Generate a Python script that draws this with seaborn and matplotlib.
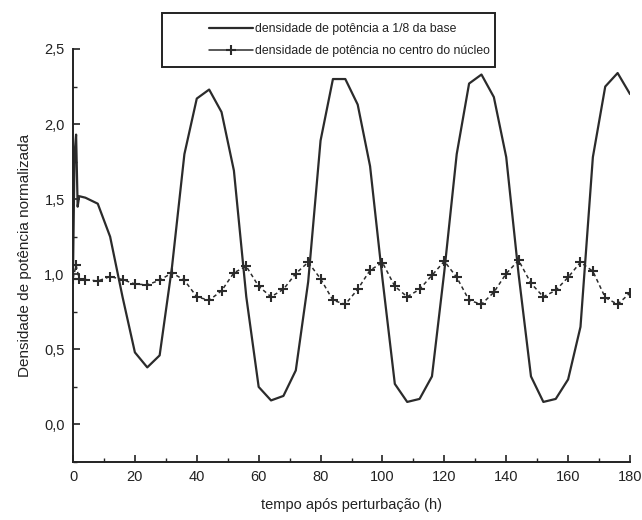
import matplotlib
matplotlib.use("Agg")
import matplotlib.pyplot as plt
import numpy as np
import pandas as pd
import seaborn as sns
from matplotlib.lines import Line2D
from matplotlib.patches import Rectangle
from matplotlib.ticker import MultipleLocator, FuncFormatter

# ---- data ----
t_base = [0, 0.5, 1, 1.5, 2, 4, 8, 12, 16, 20, 24, 28, 32, 36, 40, 44, 48, 52, 56, 60,
          64, 68, 72, 76, 80, 84, 88, 92, 96, 100, 104, 108, 112, 116, 120, 124, 128,
          132, 136, 140, 144, 148, 152, 156, 160, 164, 168, 172, 176, 180]
v_base = [1.00, 1.80, 1.93, 1.45, 1.52, 1.51, 1.47, 1.25, 0.85, 0.48, 0.38, 0.46, 1.05,
          1.80, 2.17, 2.23, 2.08, 1.69, 0.85, 0.25, 0.16, 0.19, 0.36, 0.95, 1.89, 2.30,
          2.30, 2.13, 1.72, 0.97, 0.27, 0.15, 0.17, 0.32, 1.02, 1.80, 2.27, 2.33, 2.18,
          1.78, 1.00, 0.32, 0.15, 0.17, 0.30, 0.65, 1.78, 2.25, 2.34, 2.20]

t_core = [0, 1, 2, 4, 8, 12, 16, 20, 24, 28, 32, 36, 40, 44, 48, 52, 56, 60, 64, 68, 72,
          76, 80, 84, 88, 92, 96, 100, 104, 108, 112, 116, 120, 124, 128, 132, 136, 140,
          144, 148, 152, 156, 160, 164, 168, 172, 176, 180]
v_core = [0.97, 1.06, 0.97, 0.965, 0.955, 0.985, 0.965, 0.935, 0.93, 0.96, 1.01, 0.96,
          0.85, 0.827, 0.89, 1.01, 1.053, 0.92, 0.85, 0.90, 1.005, 1.08, 0.97, 0.827,
          0.80, 0.90, 1.027, 1.078, 0.92, 0.85, 0.90, 0.993, 1.087, 0.98, 0.827, 0.80,
          0.88, 1.005, 1.093, 0.94, 0.85, 0.893, 0.98, 1.08, 1.02, 0.845, 0.80, 0.875]

label_base = "densidade de potência a 1/8 da base"
label_core = "densidade de potência no centro do núcleo"
xlabel = "tempo após perturbação (h)"
ylabel = "Densidade de potência normalizada"

# ---- style ----
sns.set_style("ticks")
plt.rcParams['font.family'] = ['Liberation Sans', 'DejaVu Sans']

W, H = 642, 520
fig = plt.figure(figsize=(W / 100, H / 100), dpi=100)
x0, x1, yb, yt = 73, 630, 462, 49
ax = fig.add_axes([x0 / W, 1 - yb / H, (x1 - x0) / W, (yb - yt) / H])

col = '#2b2b2b'
df_base = pd.DataFrame({'t': t_base, 'v': v_base})
df_core = pd.DataFrame({'t': t_core, 'v': v_core})
sns.lineplot(data=df_base, x='t', y='v', ax=ax, color=col, lw=1.6,
             estimator=None, sort=False, legend=False)
sns.lineplot(data=df_core, x='t', y='v', ax=ax, color=col, lw=1.1,
             linestyle=(0, (2.5, 2)), marker='+', markersize=7, markeredgewidth=1.5,
             markeredgecolor=col, estimator=None, sort=False, legend=False)

ax.set_xlim(0, 180)
ax.set_ylim(-0.25, 2.5)
ax.xaxis.set_major_locator(MultipleLocator(20))
ax.xaxis.set_minor_locator(MultipleLocator(10))
ax.yaxis.set_minor_locator(MultipleLocator(0.25))
ax.set_yticks([0, 0.5, 1.0, 1.5, 2.0, 2.5])
ax.yaxis.set_major_formatter(FuncFormatter(lambda v, p: f"{v:.1f}".replace('.', ',').replace('-0,0', '0,0')))
ax.tick_params(which='major', direction='in', length=5, width=1.2, labelsize=10.5,
               colors='#222222', pad=6)
ax.tick_params(which='minor', direction='in', length=3, width=1.0)
for s in ['top', 'right']:
    ax.spines[s].set_visible(False)
for s in ['left', 'bottom']:
    ax.spines[s].set_linewidth(1.4)
    ax.spines[s].set_color('#222222')

ax.set_xlabel(xlabel, fontsize=10.5, color='#222222', labelpad=10)
ax.set_ylabel(ylabel, fontsize=11, color='#222222', labelpad=9)

# legend box
fig.patches.append(Rectangle((162 / W, 1 - 67 / H), (495 - 162) / W, (67 - 13) / H,
                             transform=fig.transFigure, fill=False, edgecolor='#222222',
                             linewidth=1.4))
handles = [Line2D([], [], color=col, lw=1.6),
           Line2D([], [], color=col, lw=1.1, marker='+', markersize=7, markeredgewidth=1.5)]
fig.legend(handles, [label_base, label_core], loc='center left',
           bbox_to_anchor=(203 / W, 1 - 40 / H), frameon=False, fontsize=8.8,
           handlelength=3.6, handletextpad=0.15, labelspacing=0.8, borderpad=0,
           labelcolor='#222222')

fig.savefig('out.png', dpi=100)
